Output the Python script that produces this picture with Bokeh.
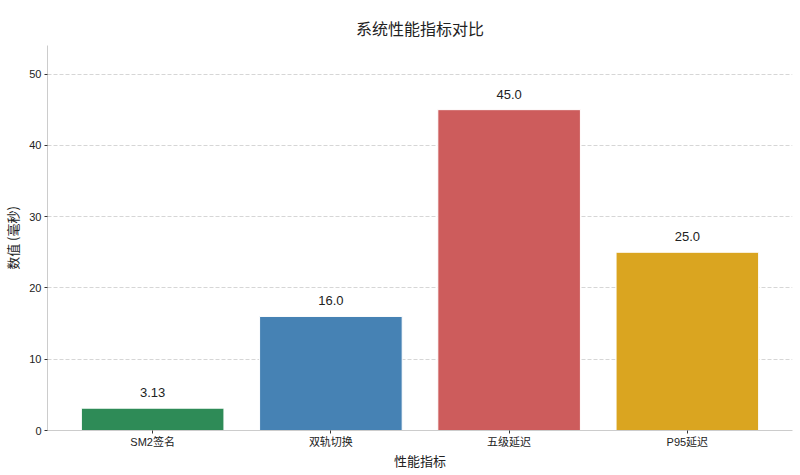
from bokeh.plotting import figure
from bokeh.models import ColumnDataSource, FactorRange, Range1d, FixedTicker
from bokeh.embed import file_html
from bokeh.resources import INLINE

title_text = "系统性能指标对比"
categories = ["SM2签名", "双轨切换", "五级延迟", "P95延迟"]
values = [3.13, 16.0, 45.0, 25.0]
value_labels = ["3.13", "16.0", "45.0", "25.0"]
colors = ["#2e8b57", "#4682b4", "#cd5c5c", "#daa520"]
y_ticks = [0, 10, 20, 30, 40, 50]

FONT = "Liberation Sans, Noto Sans CJK SC"
CJK = "Noto Sans CJK SC"

src = ColumnDataSource(dict(cat=categories, val=values, lab=value_labels, color=colors))

p = figure(
    x_range=FactorRange(factors=categories, range_padding=0.09, range_padding_units="absolute"),
    y_range=Range1d(0, 54),
    width=800, height=475,
    output_backend="svg", toolbar_location=None,
    min_border_left=47, min_border_right=8, min_border_top=45, min_border_bottom=45,
)

p.vbar(x="cat", top="val", width=0.8, source=src, fill_color="color",
       line_color="white", line_width=1)

p.text(x="cat", y="val", text="lab", source=src, text_align="center",
       text_baseline="bottom", y_offset=-11, text_font_size="13px",
       text_color="#222222", text_font={"value": FONT})

p.title.text = title_text
p.title.align = "center"
p.title.vertical_align = "top"
p.title.text_font = CJK
p.title.text_font_size = "16px"
p.title.text_font_style = "normal"
p.title.text_color = "#222222"
p.title.offset = 0
p.title.standoff = 8

p.xaxis.axis_label = "性能指标"
p.yaxis.axis_label = "数值 (毫秒)"
for ax in (p.xaxis, p.yaxis):
    ax.axis_label_text_font = CJK
    ax.axis_label_text_font_size = "13px"
    ax.axis_label_text_font_style = "normal"
    ax.axis_label_text_color = "#222222"
    ax.major_label_text_font = FONT
    ax.major_label_text_font_size = "11px"
    ax.major_label_text_color = "#222222"
    ax.axis_line_color = "#cccccc"
    ax.major_tick_line_color = "#333333"
    ax.major_tick_out = 3
    ax.major_tick_in = 0
    ax.minor_tick_line_color = None
p.xaxis.axis_label_standoff = 0
p.yaxis.axis_label_standoff = 4
p.xaxis.major_label_standoff = 2
p.yaxis.major_label_standoff = 3
p.yaxis.ticker = FixedTicker(ticks=y_ticks)

p.xgrid.grid_line_color = None
p.ygrid.grid_line_color = "#cccccc"
p.ygrid.grid_line_dash = "4 2"
p.ygrid.grid_line_width = 0.8
p.outline_line_color = None

open("out.html", "w").write(file_html(p, INLINE))
